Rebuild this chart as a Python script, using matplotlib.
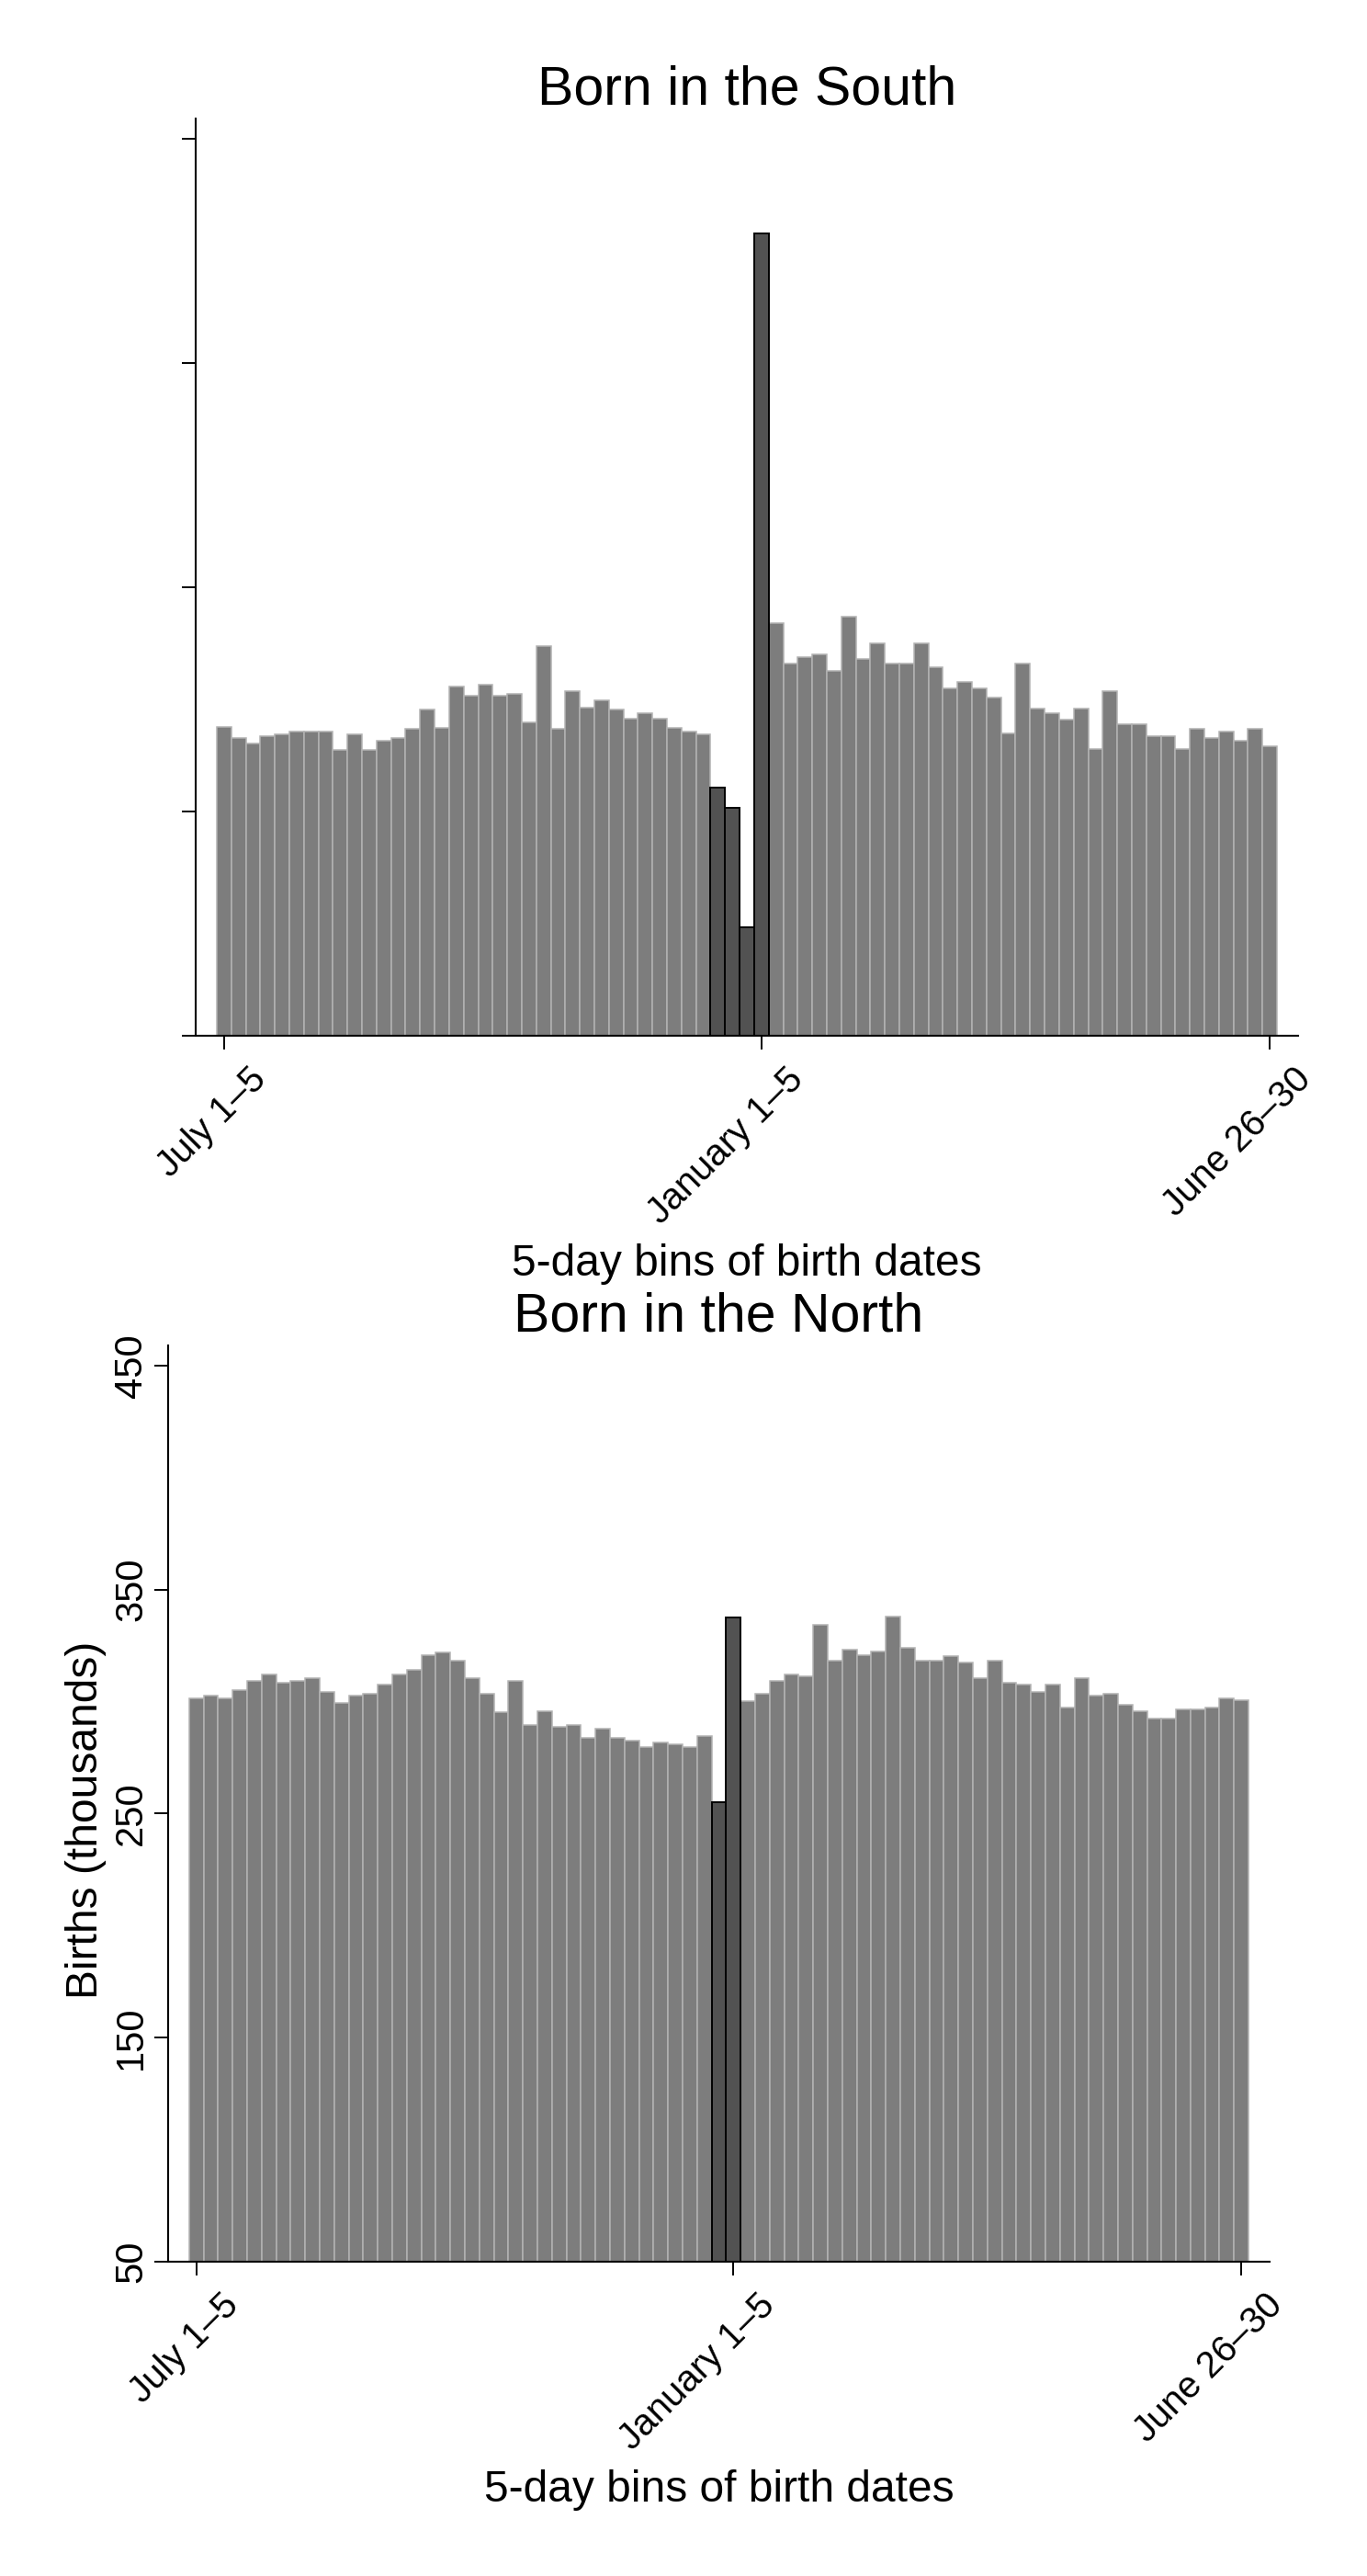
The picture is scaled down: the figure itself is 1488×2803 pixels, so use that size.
import numpy as np
import matplotlib
matplotlib.use("Agg")
import matplotlib.pyplot as plt
from matplotlib.transforms import ScaledTranslation

plt.rcParams["font.family"] = ["Liberation Sans", "DejaVu Sans"]

# 73 five-day bins, July 1-5 ... June 26-30 (births, thousands)
south_births = [
    187.7, 182.7, 180.5, 183.4, 184.6, 185.5, 185.5, 185.5, 177.4, 184.6,
    177.4, 181.5, 182.6, 186.7, 195.6, 187.4, 205.6, 201.5, 206.7, 201.5,
    202.5, 189.6, 223.6, 186.7, 203.5, 196.5, 199.4, 195.5, 191.5, 193.7,
    191.5, 187.4, 185.6, 184.5,
    160.5, 151.5, 98.3, 407.7,
    234.0, 215.9, 218.9, 219.9, 212.9, 237.0, 217.9, 225.0, 215.9, 215.9,
    225.0, 214.2, 204.9, 207.9, 204.9, 200.8, 184.7, 215.9, 195.8, 193.8,
    190.8, 195.8, 177.7, 203.8, 188.8, 188.8, 183.7, 183.7, 177.7, 186.8,
    182.7, 185.7, 181.7, 186.8, 179.2,
]
north_births = [
    301.6, 302.6, 301.3, 305.3, 309.3, 312.2, 308.3, 309.3, 310.4, 304.4,
    299.5, 302.5, 303.6, 307.5, 312.2, 314.3, 320.8, 322.1, 318.1, 310.3,
    303.6, 295.5, 309.3, 289.6, 295.6, 288.7, 289.7, 283.8, 287.8, 283.8,
    282.7, 279.6, 281.8, 281.0, 279.6, 284.6,
    255.0, 337.5,
    300.3, 303.6, 309.3, 312.3, 311.2, 334.1, 318.1, 323.2, 320.8, 322.3,
    337.8, 324.1, 318.1, 318.1, 320.2, 317.3, 310.4, 318.2, 308.4, 307.5,
    304.4, 307.5, 297.4, 310.6, 302.5, 303.6, 298.5, 295.6, 292.4, 292.4,
    296.4, 296.4, 297.4, 301.6, 300.5,
]
# bins drawn darker (around the January 1 cutoff)
south_dark = [34, 35, 36, 37]
north_dark = [36, 37]

tick_pos = [0, 37, 72]
tick_labels = ["July 1\u20135", "January 1\u20135", "June 26\u201330"]
y_ticks = [50, 150, 250, 350, 450]

LIGHT = "#7d7d7d"
LIGHT_EDGE = "#b3b3b3"
DARK = "#525252"


def draw_panel(fig, ax, values, dark_bins, title, show_y):
    x = np.arange(len(values))
    vals = np.array(values)
    light = np.array([i not in dark_bins for i in x])
    ax.bar(x[light], vals[light], width=1.0, color=LIGHT,
           edgecolor=LIGHT_EDGE, linewidth=1.1)
    ax.bar(x[~light], vals[~light], width=1.0, color=DARK,
           edgecolor="black", linewidth=1.4, zorder=3)

    ax.set_xlim(-1.95, 73.95)
    ax.set_ylim(50, 459)
    for side in ["top", "right"]:
        ax.spines[side].set_visible(False)
    for side in ["left", "bottom"]:
        ax.spines[side].set_linewidth(1.5)
        ax.spines[side].set_zorder(5)

    ax.set_yticks(y_ticks)
    ax.tick_params(axis="both", length=10.8, width=1.4, direction="out")
    if show_y:
        ax.set_yticklabels([str(v) for v in y_ticks], rotation=90,
                           va="center", fontsize=30)
        ax.tick_params(axis="y", pad=3.5)
        ax.set_ylabel("Births (thousands)", fontsize=34.5)
        ax.yaxis.set_label_coords(-0.0642, 0.4825)
        ax.yaxis.label.set_verticalalignment("baseline")
    else:
        ax.set_yticklabels([])

    ax.set_xticks(tick_pos)
    ax.set_xticklabels(tick_labels, rotation=45, ha="right", va="top",
                       rotation_mode="anchor", fontsize=29)
    ax.tick_params(axis="x", pad=0)
    shift = ScaledTranslation(26 / fig.dpi, -13 / fig.dpi, fig.dpi_scale_trans)
    for lab in ax.get_xticklabels():
        lab.set_transform(lab.get_transform() + shift)

    ax.set_xlabel("5-day bins of birth dates", fontsize=34.5)
    ax.xaxis.set_label_coords(0.5, -0.2615)
    ax.xaxis.label.set_verticalalignment("baseline")

    ax.set_title(title, fontsize=42.5, pad=11)


fig = plt.figure(figsize=(14.88, 28.03), dpi=100)
ax_s = fig.add_axes([0.14315, 0.59793, 0.80645, 0.35605])
ax_n = fig.add_axes([0.12298, 0.12201, 0.80578, 0.35569])

draw_panel(fig, ax_s, south_births, south_dark, "Born in the South", False)
draw_panel(fig, ax_n, north_births, north_dark, "Born in the North", True)

fig.savefig("out.png", dpi=100, facecolor="white")
